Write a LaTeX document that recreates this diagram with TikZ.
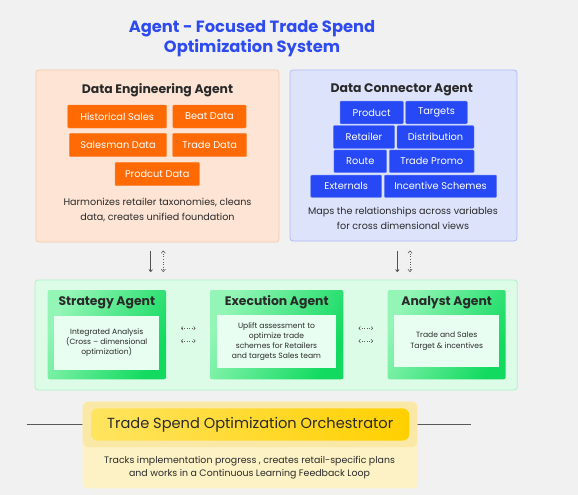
\documentclass[tikz,border=0pt]{standalone}
\usepackage{fontspec}
\setmainfont{Poppins}
\usetikzlibrary{arrows.meta}
\definecolor{bgc}{HTML}{F1F1F1}
\definecolor{titleblue}{HTML}{2E4BF0}
\definecolor{peach}{HTML}{FDE4D4}
\definecolor{peachb}{HTML}{F8C9A9}
\definecolor{orng}{HTML}{FF6A05}
\definecolor{lav}{HTML}{DEE3FC}
\definecolor{lavb}{HTML}{AEBBF6}
\definecolor{blu}{HTML}{2649F5}
\definecolor{mint}{HTML}{DCFCE8}
\definecolor{mintb}{HTML}{AEF1C6}
\definecolor{greenL}{HTML}{93F6B6}
\definecolor{greenD}{HTML}{12DA60}
\definecolor{innerg}{HTML}{E8FEF0}
\definecolor{ypale}{HTML}{FDF2C6}
\definecolor{yglow}{HTML}{FAE9A6}
\definecolor{yL}{HTML}{FFE460}
\definecolor{yD}{HTML}{FFD000}
\definecolor{txt}{HTML}{2A2A2A}
\tikzset{
  panel/.style={draw=#1, line width=0.8pt, rounded corners=3pt},
  obox/.style={fill=orng, draw=orng!80!white, text=white, inner sep=0pt, rounded corners=1pt, font=\fontsize{9.8}{11}\selectfont},
  bbox/.style={fill=blu, draw=blu!70!white, text=white, inner sep=0pt, rounded corners=1pt, font=\fontsize{9.8}{11}\selectfont},
  ptitle/.style={font=\fontsize{12.4}{14}\selectfont\bfseries, text=txt},
  body/.style={font=\fontsize{9.6}{15.6}\selectfont, text=txt, align=center},
  agent/.style={rounded corners=2pt, shading=axis, left color=greenL, right color=greenD, shading angle=60},
  inner/.style={fill=innerg, draw=none, inner sep=0pt},
  small/.style={font=\fontsize{7.6}{10.2}\selectfont, text=txt, align=center},
  vsolid/.style={draw=gray!65!black, line width=0.8pt, -{To[length=2.8pt,width=4.2pt]}},
  vdot/.style={draw=gray!75!black, line width=0.6pt, dotted, {To[length=3pt,width=4.6pt]}-{To[length=3pt,width=4.6pt]}},
  hdot/.style={draw=gray!75!black, line width=0.5pt, dotted, {To[length=2.3pt,width=4pt]}-{To[length=2.3pt,width=4pt]}},
}
\begin{document}
\begin{tikzpicture}[x=1pt,y=-1pt]
\useasboundingbox (0,0) rectangle (578,495);
\fill[bgc] (0,0) rectangle (578,495);
% title
\node[font=\fontsize{16.3}{20}\selectfont\bfseries, text=titleblue, align=center] (title) at (252,38.5) {Agent - Focused Trade Spend\\Optimization System};
% Data engineering panel
\draw[panel=peachb, fill=peach] (36,70) rectangle (279,242);
\node[ptitle] (det) at (157.5,90) {Data Engineering Agent};
\node[obox, minimum width=99, minimum height=23] (hs) at (117.2,116.5) {Historical Sales};
\node[obox, minimum width=73.3, minimum height=23] (bd) at (209.4,116.5) {Beat Data};
\node[obox, minimum width=97.4, minimum height=23.4] (sd) at (118,145) {Salesman Data};
\node[obox, minimum width=74, minimum height=23.4] (td) at (209.7,145) {Trade Data};
\node[obox, minimum width=84.3, minimum height=23.4] (pd) at (157.2,174) {Prodcut Data};
\node[body] (detxt) at (157.5,210) {Harmonizes retailer taxonomies, cleans\\data, creates unified foundation};
% Data connector panel
\draw[panel=lavb, fill=lav] (290,70) rectangle (517,241);
\node[ptitle] (dct) at (401.7,90) {Data Connector Agent};
\node[bbox, minimum width=63.3, minimum height=22.7] (prod) at (371.7,112.5) {Product};
\node[bbox, minimum width=61.6, minimum height=22.7] (targ) at (436.5,112.5) {Targets};
\node[bbox, minimum width=61.4, minimum height=22.7] (ret) at (364,137) {Retailer};
\node[bbox, minimum width=77, minimum height=22.7] (dist) at (435.5,137) {Distribution};
\node[bbox, minimum width=52.7, minimum height=22.7] (route) at (360.3,161.3) {Route};
\node[bbox, minimum width=84.7, minimum height=22.7] (tp) at (431.7,161.3) {Trade Promo};
\node[bbox, minimum width=71, minimum height=22.3] (ext) at (346.2,186.2) {Externals};
\node[bbox, minimum width=112.4, minimum height=22.3] (inc) at (440.5,186.2) {Incentive Schemes};
\node[body] (dctxt) at (403,218.5) {Maps the relationships across variables\\for cross dimensional views};
% vertical arrows
\coordinate (a1t) at (150.7,250.5); \coordinate (a1b) at (150.7,272);
\coordinate (a2t) at (163.3,250.5); \coordinate (a2b) at (163.3,272);
\coordinate (a3t) at (397.3,250.5); \coordinate (a3b) at (397.3,272);
\coordinate (a4t) at (410,250.5); \coordinate (a4b) at (410,272);
\draw[vsolid] (a1t) -- (a1b);
\draw[vdot] (a2t) -- (a2b);
\draw[vsolid] (a3t) -- (a3b);
\draw[vdot] (a4t) -- (a4b);
% green container
\draw[panel=mintb, fill=mint] (35,280) rectangle (517.3,390);
% strategy
\path[agent] (47.7,290) rectangle (166,379.3);
\node[ptitle] (st) at (106.8,302.5) {Strategy Agent};
\node[inner, minimum width=104.7, minimum height=54.3] (sin) at (106.7,342.8) {};
\node[small] (stx) at (sin) {Integrated Analysis\\(Cross – dimensional\\optimization)};
% execution
\path[agent] (210,290) rectangle (343.3,379.3);
\node[ptitle] (et) at (276.7,302.5) {Execution Agent};
\node[inner, minimum width=118.4, minimum height=52.5] (ein) at (276.5,341.5) {};
\node[small] (etx) at (ein) {Uplift assessment to\\optimize trade\\schemes for Retailers\\and targets Sales team};
% analyst
\path[agent] (387.7,290) rectangle (505.7,379.3);
\node[ptitle] (at) at (446.7,302.5) {Analyst Agent};
\node[inner, minimum width=104.7, minimum height=52.3] (ain) at (446.7,341.2) {};
\node[small] (atx) at (ain) {Trade and Sales\\Target \& incentives};
% horizontal dotted arrows
\coordinate (h1a) at (181,328.3); \coordinate (h1b) at (195.5,328.3);
\coordinate (h2a) at (181,341); \coordinate (h2b) at (195.5,341);
\coordinate (h3a) at (358.5,328.3); \coordinate (h3b) at (373,328.3);
\coordinate (h4a) at (358.5,341); \coordinate (h4b) at (373,341);
\draw[hdot] (h1a) -- (h1b);
\draw[hdot] (h2a) -- (h2b);
\draw[hdot] (h3a) -- (h3b);
\draw[hdot] (h4a) -- (h4b);
% orchestrator
\coordinate (lineL) at (26.7,424.3); \coordinate (lineR) at (471,424.3);
\draw[gray!70!black, line width=0.7pt] (lineL) -- (lineR);
\fill[ypale, rounded corners=3pt] (82.7,401.7) rectangle (417.3,488.3);
\fill[yglow, rounded corners=6pt] (82.7,401.7) rectangle (417.3,447);
\node[rounded corners=7pt, left color=yL, right color=yD, minimum width=318.3, minimum height=32.4, inner sep=0pt, font=\fontsize{14.6}{16}\selectfont, text=txt] (orch) at (250.2,424.5) {Trade Spend Optimization Orchestrator};
\node[body, font=\fontsize{9.4}{13.6}\selectfont] (otx) at (249.5,467.5) {Tracks implementation progress , creates retail-specific plans\\and works in a Continuous Learning Feedback Loop};
\end{tikzpicture}
\end{document}
